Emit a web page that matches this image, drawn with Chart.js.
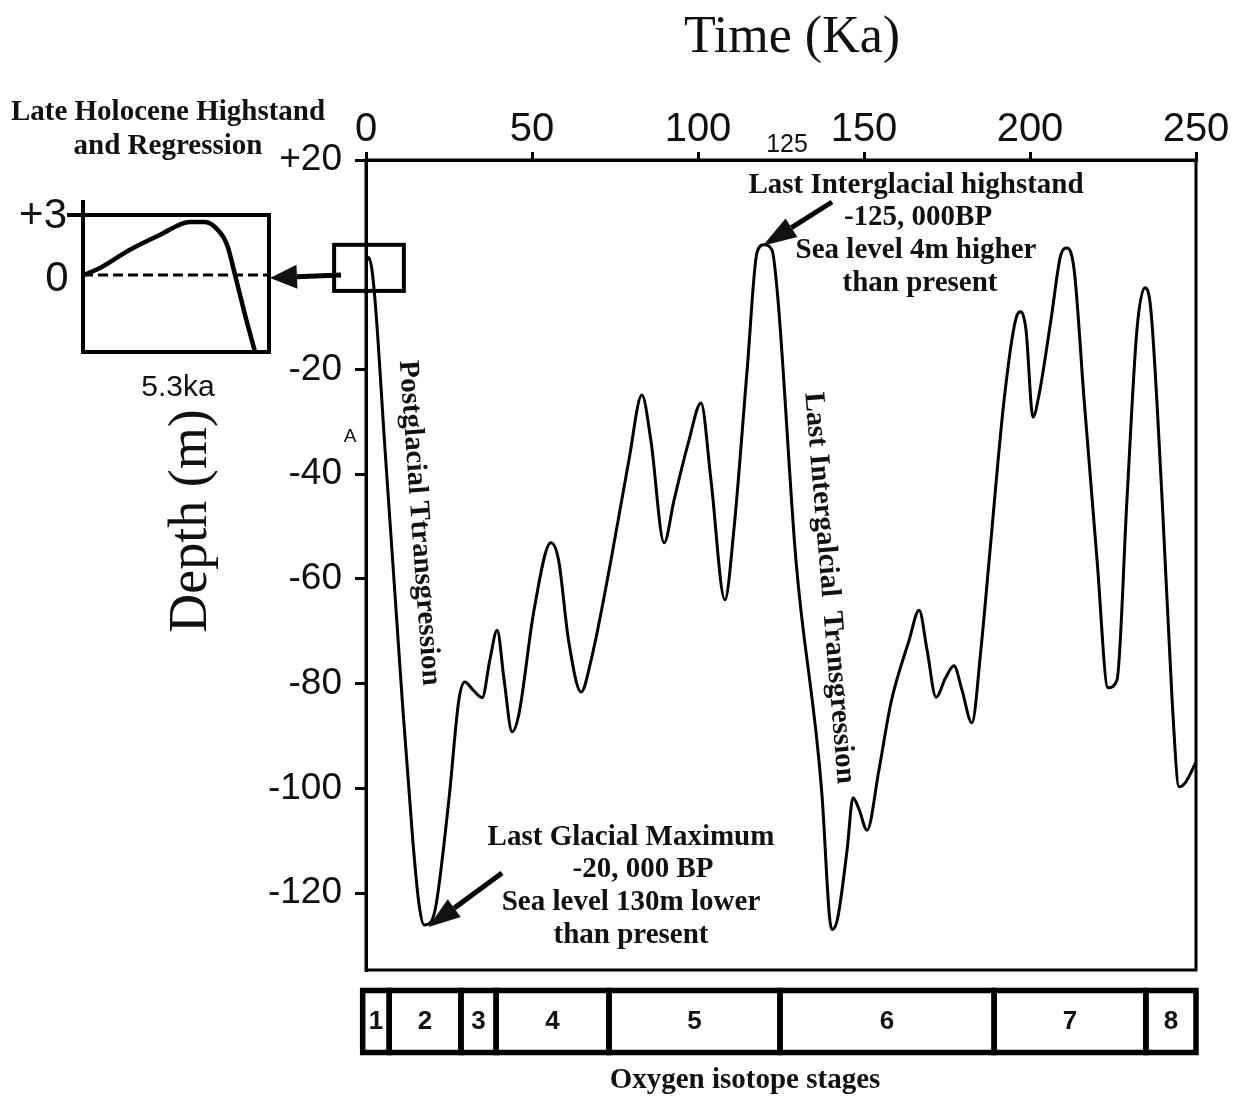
<!DOCTYPE html>
<html lang="en">
<head>
<meta charset="UTF-8">
<title>Sea level curve</title>
<script src="https://cdn.jsdelivr.net/npm/chart.js"></script>
<style>
  body { margin: 0; background: #fff; }
  #wrap { position: relative; width: 1240px; height: 1097px; }
  #seaLevel { position: absolute; left: 0; top: 0; }
  #inset { position: absolute; left: 0; top: 190px; }
</style>
</head>
<body>
<div id="wrap">
<canvas id="seaLevel" width="1240" height="1097"></canvas>
<canvas id="inset" width="280" height="210"></canvas>
</div>
<script>
// sea level curve (age in ka, depth in m)
const ageKa = [0, 0.8, 1.8, 3, 5.7, 10.9, 14.1, 16, 17.5, 19.6, 21.1, 25, 28, 29.8, 32.2, 35, 37.3, 39.5,
  41.6, 44, 46, 50.6, 55.7, 58, 61, 64.8, 67.8, 73.8, 79.2, 83.1, 85.8, 89.8, 92.8, 97.3, 100.9, 103.9,
  108.1, 110.8, 114.8, 117.8, 119.9, 122.3, 124, 129.5, 137.3, 139.6, 140.4, 142, 144.9, 146.7, 148.5,
  150.9, 154.5, 158.1, 163.6, 166.6, 169, 171.7, 174.5, 177.1, 179.5, 182.5, 185.2, 187.7, 192.2, 195.8,
  197.3, 198.8, 200.9, 202.7, 206.3, 209.3, 211.1, 213.3, 216.3, 220.2, 223.5, 226.2, 229.2, 232.2,
  234.6, 236.4, 239.8, 242.8, 244.9, 246.7, 250];
const depthM = [0.5, 1.4, -1, -9, -35, -83, -110, -122.3, -126.1, -125.5, -122.3, -102, -83, -79.7, -81.2, -82.7, -75.5, -69.8,
  -79.3, -89.2, -86, -66, -53.1, -56.4, -71.7, -81.6, -75.5, -56.4, -37.3, -24.9, -33.5, -53.1, -44.9, -33.5, -26.4, -41.1,
  -64, -50.7, -20.1, 2.4, 3.8, 2.8, -6, -56.4, -100.9, -124.5, -127, -125, -111.8, -101.8, -104,
  -108, -96.5, -83.7, -71.7, -66, -73.6, -82.6, -79, -76.6, -81.2, -87.5, -73.6, -56.4, -25.8, -10.2,
  -9, -12.5, -29.1, -24.9, -10.6, 1.9, 3.2, -1, -25.8, -56.4, -80.8, -79.3, -44.9, -12.5,
  -4.4, -8.6, -44.9, -83.1, -99.7, -99, -95];
const yTickValues = [20, -20, -40, -60, -80, -100, -120];

// oxygen isotope stages as drawn under the plot
const stageNames = ['1', '2', '3', '4', '5', '6', '7', '8'];
const stageEdgesKa = [-1, 7, 28.6, 39.2, 73.2, 124.7, 189.2, 234.9, 250];

// late holocene inset
const holoceneAgeKa = [0, 0.13, 0.73, 2.0, 3.3, 4.6, 5.25, 5.8, 6.2, 6.54, 6.97, 7.4];
const holoceneLevelM = [0, 0.05, 0.35, 1.25, 2.0, 2.65, 2.65, 2.25, 1.5, 0, -2, -3.85];

const SERIF = '"Liberation Serif", "Times New Roman", serif';
const SANS = '"Liberation Sans", Arial, sans-serif';

function label(ctx, str, x, y, font, align) {
  ctx.font = font;
  ctx.textAlign = align || 'center';
  ctx.textBaseline = 'middle';
  ctx.fillText(str, x, y);
}

function rotated(ctx, str, x, y, font, angle) {
  ctx.save();
  ctx.translate(x, y);
  ctx.rotate(angle);
  label(ctx, str, 0, 0, font);
  ctx.restore();
}

function arrow(ctx, x1, y1, x2, y2, head, half, lw) {
  const ang = Math.atan2(y2 - y1, x2 - x1);
  const bx = x2 - head * Math.cos(ang), by = y2 - head * Math.sin(ang);
  ctx.lineWidth = lw;
  ctx.beginPath(); ctx.moveTo(x1, y1); ctx.lineTo(bx, by); ctx.stroke();
  ctx.beginPath();
  ctx.moveTo(x2, y2);
  ctx.lineTo(bx + half * Math.sin(ang), by - half * Math.cos(ang));
  ctx.lineTo(bx - half * Math.sin(ang), by + half * Math.cos(ang));
  ctx.closePath();
  ctx.fill();
}

const annotations = {
  id: 'annotations',
  afterDraw(chart) {
    const { ctx, chartArea: a, scales: { x, y } } = chart;
    ctx.save();
    ctx.strokeStyle = '#000';
    ctx.fillStyle = '#111';
    ctx.lineCap = 'butt';

    // plot frame
    ctx.lineWidth = 3;
    ctx.strokeRect(a.left, a.top, a.right - a.left, a.bottom - a.top);

    // box around the late holocene part
    const bx0 = x.getPixelForValue(-9.6), bx1 = x.getPixelForValue(11.4);
    const by0 = y.getPixelForValue(3.8), by1 = y.getPixelForValue(-5);
    ctx.lineWidth = 4;
    ctx.strokeRect(bx0, by0, bx1 - bx0, by1 - by0);
    arrow(ctx, 341, 275, 270, 278, 27, 12, 5);

    // titles
    label(ctx, 'Time (Ka)', 792, 38, '52px ' + SERIF);
    rotated(ctx, 'Depth (m)', 192, 521, '54px ' + SERIF, -Math.PI / 2);
    label(ctx, '125', 787, 145, '25px ' + SANS);
    label(ctx, 'A', 350, 437, '19px ' + SANS);

    // annotations
    const bold = 'bold 29px ' + SERIF;
    label(ctx, 'Late Holocene Highstand', 168, 113, bold);
    label(ctx, 'and Regression', 168, 147, bold);

    label(ctx, 'Last Interglacial highstand', 916, 186, bold);
    label(ctx, '-125, 000BP', 918, 218, bold);
    label(ctx, 'Sea level 4m higher', 916, 251, bold);
    label(ctx, 'than present', 920, 284, bold);
    arrow(ctx, 832, 202, x.getPixelForValue(119.5), y.getPixelForValue(3.6), 34, 11, 5);

    label(ctx, 'Last Glacial Maximum', 631, 838, bold);
    label(ctx, '-20, 000 BP', 643, 870, bold);
    label(ctx, 'Sea level 130m lower', 631, 903, bold);
    label(ctx, 'than present', 631, 936, bold);
    arrow(ctx, 502, 873, x.getPixelForValue(18.8), y.getPixelForValue(-126.5), 32, 11, 5);

    rotated(ctx, 'Postglacial Ttransgression', 419, 523, bold, Math.atan2(330, 24));
    rotated(ctx, 'Last Intergalcial  Transgression', 829, 588, bold, Math.atan2(395, 33));

    // oxygen isotope stage bar
    const top = 990.5, h = 62;
    ctx.lineWidth = 5.5;
    for (let i = 0; i < stageNames.length; i++) {
      const l = x.getPixelForValue(stageEdgesKa[i]);
      const r = x.getPixelForValue(stageEdgesKa[i + 1]);
      ctx.strokeRect(l, top, r - l, h);
      label(ctx, stageNames[i], (l + r) / 2, top + h / 2, 'bold 26px ' + SANS);
    }
    label(ctx, 'Oxygen isotope stages', 745, 1081, 'bold 29px ' + SERIF);
    ctx.restore();
  }
};

new Chart(document.getElementById('seaLevel'), {
  type: 'line',
  data: {
    datasets: [{
      data: ageKa.map((a, i) => ({ x: a, y: depthM[i] })),
      borderColor: '#000',
      borderWidth: 3,
      pointRadius: 0,
      cubicInterpolationMode: 'monotone',
      fill: false
    }]
  },
  options: {
    responsive: false,
    animation: false,
    layout: { padding: { top: 0, left: 0, right: 44, bottom: 127 } },
    plugins: { legend: { display: false }, tooltip: { enabled: false } },
    scales: {
      x: {
        type: 'linear',
        position: 'top',
        min: 0, max: 250,
        afterFit: (s) => { s.height = 160; },
        ticks: { stepSize: 50, color: '#111', padding: -2, font: { family: SANS, size: 40 } },
        grid: { drawOnChartArea: false, tickLength: 8, color: '#000', lineWidth: 3 },
        border: { color: '#000', width: 3 }
      },
      y: {
        min: -134.7, max: 20,
        afterFit: (s) => { s.width = 366; },
        afterBuildTicks: (s) => { s.ticks = yTickValues.map(v => ({ value: v })); },
        ticks: {
          color: '#111', padding: 13, font: { family: SANS, size: 37 },
          callback: (v) => (v > 0 ? '+' + v : String(v))
        },
        grid: { drawOnChartArea: false, tickLength: 11, color: '#000', lineWidth: 3 },
        border: { color: '#000', width: 3 }
      }
    }
  },
  plugins: [annotations]
});

// inset: late holocene highstand and regression
const insetFrame = {
  id: 'insetFrame',
  afterDraw(chart) {
    const { ctx, chartArea: a, scales: { y } } = chart;
    const zero = y.getPixelForValue(0);
    ctx.save();
    ctx.strokeStyle = '#000';
    ctx.fillStyle = '#111';
    ctx.lineWidth = 3;
    ctx.setLineDash([10, 5]);
    ctx.beginPath(); ctx.moveTo(a.left, zero); ctx.lineTo(a.right, zero); ctx.stroke();
    ctx.setLineDash([]);
    ctx.lineWidth = 4;
    ctx.strokeRect(a.left, a.top, a.right - a.left, a.bottom - a.top);
    ctx.beginPath();
    ctx.moveTo(a.left, a.top - 15); ctx.lineTo(a.left, a.top);
    ctx.moveTo(a.left - 16, a.top); ctx.lineTo(a.left, a.top);
    ctx.stroke();
    label(ctx, '+3', 67, a.top + 1, '42px ' + SANS, 'right');
    label(ctx, '0', 57, zero + 4, '42px ' + SANS);
    label(ctx, '5.3ka', 178, a.bottom + 36, '30px ' + SANS);
    ctx.restore();
  }
};

new Chart(document.getElementById('inset'), {
  type: 'line',
  data: {
    datasets: [{
      data: holoceneAgeKa.map((a, i) => ({ x: a, y: holoceneLevelM[i] })),
      borderColor: '#000',
      borderWidth: 4.5,
      pointRadius: 0,
      cubicInterpolationMode: 'monotone',
      clip: false,
      fill: false
    }]
  },
  options: {
    responsive: false,
    animation: false,
    layout: { padding: { left: 83, top: 25, right: 11, bottom: 48 } },
    plugins: { legend: { display: false }, tooltip: { enabled: false } },
    scales: {
      x: { type: 'linear', min: 0, max: 8, display: false },
      y: { min: -3.85, max: 3, display: false }
    }
  },
  plugins: [insetFrame]
});
</script>
</body>
</html>
